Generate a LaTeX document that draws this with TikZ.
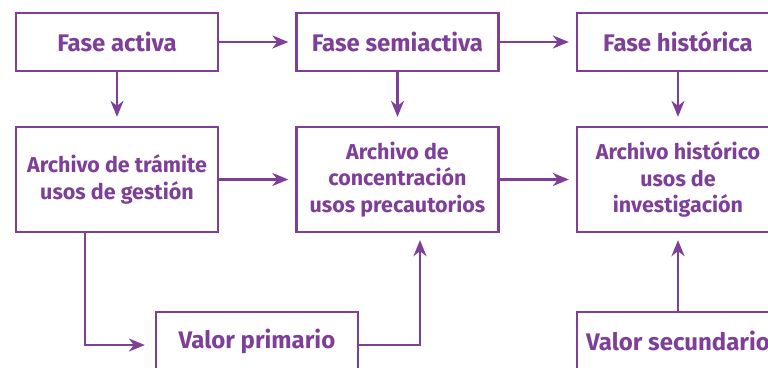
\documentclass[tikz,border=0pt]{standalone}
\usepackage{fontspec}
\setmainfont{Fira Sans}
\usetikzlibrary{arrows.meta}
\definecolor{purp}{HTML}{7E3F98}
\begin{document}
\begin{tikzpicture}[x=1pt,y=-1pt,
  box/.style={draw=purp,line width=2.3pt,minimum width=202pt,inner sep=0pt,
    text=purp,font=\bfseries,align=center},
  topbox/.style={box,minimum height=58pt,font=\bfseries\fontsize{24}{28}\selectfont},
  midbox/.style={box,minimum height=105pt,font=\bfseries\fontsize{21.5}{26.5}\selectfont,
    execute at begin node={\rule{0pt}{21pt}}},
  arr/.style={draw=purp,line width=2.3pt,-{Stealth[length=16pt,width=13pt,inset=5pt]},shorten >=7pt}]
\useasboundingbox (0,0) rectangle (768,367);
\node[topbox] (fa) at (117,42) {Fase activa};
\node[topbox] (fs) at (397.5,42) {Fase semiactiva};
\node[topbox] (fh) at (678,42) {Fase histórica};
\node[midbox] (at) at (117,179.5) {Archivo de trámite\\usos de gestión};
\node[midbox] (cs) at (397.5,179.5) {Archivo de\\concentración\\usos precautorios};
\node[midbox] (ah) at (678,179.5) {Archivo histórico\\usos de\\investigación};
\node[topbox] (vp) at (257,341) {Valor primario};
\node[topbox] (vs) at (678,341) {Valor secundario};
\draw[arr] (fa) -- (fs);
\draw[arr] (fs) -- (fh);
\draw[arr,shorten >=9pt] (fa) -- (at);
\draw[arr,shorten >=9pt] (fs) -- (cs);
\draw[arr,shorten >=9pt] (fh) -- (ah);
\draw[arr] (at) -- (cs);
\draw[arr] (cs) -- (ah);
\draw[arr,shorten >=10pt] ([xshift=-32pt]at.south) |- ([yshift=-4pt]vp.west);
\draw[arr] ([yshift=-4pt]vp.east) -| ([xshift=22.5pt]cs.south);
\draw[arr] (vs) -- (ah);
\end{tikzpicture}
\end{document}
